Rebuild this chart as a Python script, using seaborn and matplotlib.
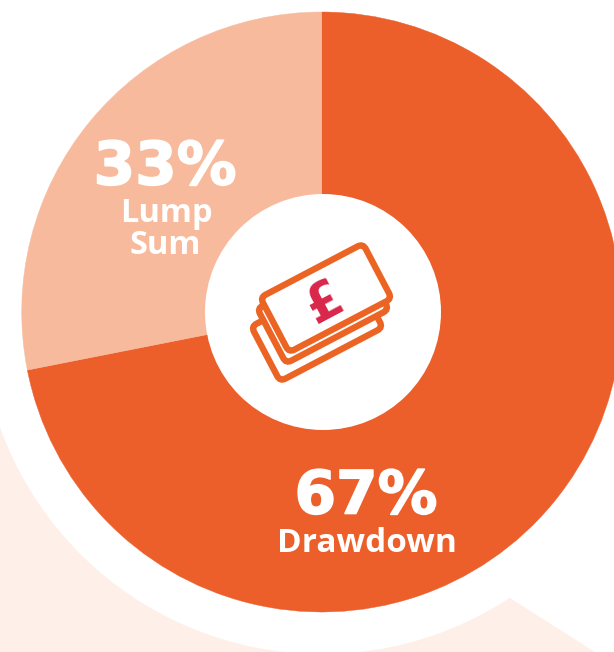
import matplotlib
matplotlib.use("Agg")
import matplotlib.pyplot as plt
import matplotlib.patheffects as pe
from matplotlib.patches import Circle, FancyBboxPatch, Polygon
from matplotlib.transforms import Affine2D
import seaborn as sns

# slice sizes are what the picture shows, the printed labels say 33 / 67
categories = ["Lump Sum", "Drawdown"]
slice_sizes = [28.1, 71.9]
labels = ["33%", "67%"]
colours = ["#F8BA9C", "#EC5E2A"]

W, H = 614, 652


def yy(y):
    return H - y


def draw_note(ax, dx, dy, z):
    cx, cy = 326 + dx, yy(298 + dy)
    w, h = 116, 62
    box = FancyBboxPatch((cx - w / 2, cy - h / 2), w, h, boxstyle="round,pad=0,rounding_size=6",
                         fc="white", ec="#EC6424", lw=4.6, zorder=z)
    box.set_transform(Affine2D().rotate_deg_around(cx, cy, 27.7) + ax.transData)
    ax.add_patch(box)


sns.set_theme(style="white")
plt.rcParams["font.family"] = ["Open Sans", "DejaVu Sans"]

fig = plt.figure(figsize=(W / 100, H / 100), dpi=100)
ax = fig.add_axes([0, 0, 1, 1])

# pale background shape, the white ring sits on top of it
ax.add_patch(Polygon([(0, yy(380)), (0, 0), (595, 0), (510, yy(598)), (322, yy(500))], closed=True, fc="#FEF0E8", ec="none", zorder=0))
ax.add_patch(Circle((322, yy(312)), 342, fc="white", ec="none", zorder=1))

wedges, _ = ax.pie(slice_sizes, colors=colours, startangle=90, counterclock=True, radius=300, center=(321.7, yy(312)), frame=True)
for w, c in zip(wedges, colours):
    w.set_zorder(2)
    w.set_edgecolor(c)
    w.set_linewidth(0.3)
wedges[0].set_zorder(2.1)
ax.add_patch(Circle((323, yy(312)), 118, fc="white", ec="none", zorder=3))

ax.set_xlim(0, W)
ax.set_ylim(0, H)
ax.set_aspect("auto")
ax.axis("off")

big = ["DejaVu Sans"]
heavy = [pe.withStroke(linewidth=1.2, foreground="white")]
ax.text(165, yy(168), labels[0], color="white", fontsize=43, fontweight="bold", family=big, ha="center", va="center", zorder=4, path_effects=heavy)
ax.text(166, yy(214), "Lump", color="white", fontsize=23.5, fontweight="bold", ha="center", va="center", zorder=4)
ax.text(165, yy(245), "Sum", color="white", fontsize=23.5, fontweight="bold", ha="center", va="center", zorder=4)
ax.text(366, yy(497), labels[1], color="white", fontsize=43, fontweight="bold", family=big, ha="center", va="center", zorder=4, path_effects=heavy)
ax.text(367, yy(544), categories[1], color="white", fontsize=24, fontweight="bold", ha="center", va="center", zorder=4)

# bank note icon
draw_note(ax, -9, 29, 5)
draw_note(ax, -3, 11, 6)
draw_note(ax, 0, 0, 7)
ax.text(325, yy(303), "£", color="#D9264A", fontsize=37, fontweight="bold", family=big,
        rotation=28, rotation_mode="anchor", ha="center", va="center", zorder=8)

fig.savefig("out.png", dpi=100, facecolor="white")
